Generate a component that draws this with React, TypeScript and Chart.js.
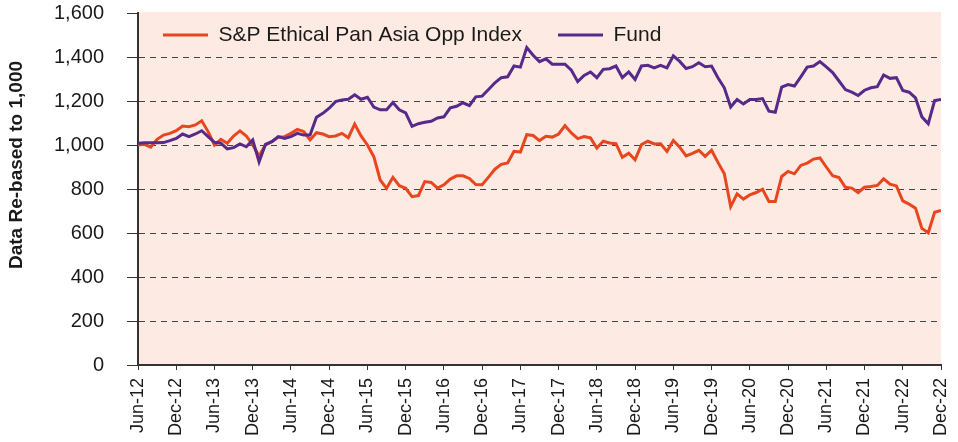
import React, { useEffect, useRef } from 'react';
import { Chart, registerables } from 'chart.js';

Chart.register(...registerables);

const tickLabels = [
  'Jun-12', 'Dec-12', 'Jun-13', 'Dec-13', 'Jun-14', 'Dec-14', 'Jun-15', 'Dec-15',
  'Jun-16', 'Dec-16', 'Jun-17', 'Dec-17', 'Jun-18', 'Dec-18', 'Jun-19', 'Dec-19',
  'Jun-20', 'Dec-20', 'Jun-21', 'Dec-21', 'Jun-22', 'Dec-22',
];

const indexLabel = 'S&P Ethical Pan Asia Opp Index';
const fundLabel = 'Fund';
const yTitle = 'Data Re-based to 1,000';

// monthly values, Jun-12 .. Dec-22
const indexValues = [
  1000, 1003, 990, 1026, 1045, 1053, 1065, 1086, 1083, 1091, 1110, 1061,
  1000, 1026, 1008, 1041, 1064, 1041, 1000, 950, 1000, 1015, 1035, 1038,
  1053, 1071, 1061, 1023, 1056, 1050, 1038, 1041, 1053, 1033, 1095, 1041,
  1000, 947, 841, 803, 853, 815, 803, 765, 770, 834, 830, 804,
  819, 845, 860, 860, 848, 820, 819, 854, 890, 912, 918, 971,
  968, 1047, 1043, 1020, 1040, 1036, 1050, 1088, 1055, 1029, 1038, 1032,
  986, 1017, 1009, 1006, 944, 963, 933, 1002, 1017, 1005, 1006, 971,
  1021, 990, 950, 962, 976, 948, 976, 921, 869, 720, 778, 754,
  773, 784, 799, 743, 743, 857, 880, 869, 907, 918, 936, 941,
  900, 860, 852, 808, 804, 784, 808, 811, 816, 846, 822, 814,
  746, 731, 713, 621, 601, 694, 702,
];

const fundValues = [
  1008, 1010, 1010, 1010, 1011, 1020, 1030, 1050, 1038, 1050, 1065, 1038,
  1012, 1008, 982, 988, 1005, 992, 1023, 923, 1003, 1015, 1038, 1030,
  1038, 1053, 1045, 1045, 1126, 1144, 1167, 1197, 1205, 1208, 1228, 1208,
  1217, 1172, 1160, 1160, 1193, 1160, 1146, 1085, 1097, 1103, 1108, 1123,
  1128, 1169, 1176, 1192, 1179, 1219, 1222, 1252, 1283, 1306, 1310, 1359,
  1354, 1443, 1408, 1379, 1392, 1367, 1367, 1367, 1340, 1288, 1316, 1332,
  1306, 1344, 1347, 1359, 1306, 1332, 1298, 1359, 1362, 1351, 1362, 1351,
  1405, 1380, 1348, 1356, 1374, 1356, 1359, 1306, 1260, 1173, 1207, 1187,
  1207, 1207, 1211, 1154, 1149, 1263, 1275, 1268, 1310, 1354, 1359, 1379,
  1355, 1329, 1291, 1252, 1240, 1225, 1249, 1260, 1265, 1318, 1303, 1306,
  1248, 1240, 1214, 1128, 1097, 1202, 1207,
];

const FONT = "'Liberation Sans', Arial, Helvetica, sans-serif";
const ORANGE = '#e8461e';
const PURPLE = '#56298a';
const TEXT = '#1a1a1a';
const AXIS = '#333333';
const LEGEND_PAD = 36;

export default function App() {
  const ref = useRef<HTMLCanvasElement>(null);

  useEffect(() => {
    document.body.style.margin = '0';
    const canvas = ref.current;
    if (!canvas) return;
    Chart.defaults.font.family = FONT;

    const bgPlugin = {
      id: 'bgPlugin',
      beforeDraw(chart: any) {
        const { ctx, chartArea: a } = chart;
        ctx.save();
        ctx.fillStyle = '#fdebe3';
        ctx.fillRect(a.left, a.top - 1, a.right - a.left, a.bottom - a.top + 1);
        ctx.restore();
      },
    };

    const titlePlugin = {
      id: 'titlePlugin',
      afterDraw(chart: any) {
        const c = chart.ctx;
        c.save();
        c.translate(17, 165);
        c.rotate(-Math.PI / 2);
        c.font = `bold 19px ${FONT}`;
        c.fillStyle = TEXT;
        c.textAlign = 'center';
        c.textBaseline = 'middle';
        c.fillText(yTitle, 0, 0);
        c.restore();
      },
    };

    // place the built-in legend inside the plot, items side by side
    const legendPos = {
      id: 'legendPos',
      afterLayout(chart: any) {
        const lg = chart.legend;
        if (!lg) return;
        lg.maxHeight = 100;
        lg.fit();
        if (lg.columnSizes && lg.columnSizes.length >= 2) {
          lg.left = 163 - LEGEND_PAD;
          lg.right = lg.left + 800;
          lg.top = 24.5 - LEGEND_PAD;
          lg.bottom = lg.top + 100;
        }
      },
    };

    const chart = new Chart(canvas, {
      type: 'line',
      data: {
        datasets: [
          {
            label: indexLabel,
            data: indexValues.map((v, i) => ({ x: i, y: v })),
            borderColor: ORANGE,
            backgroundColor: ORANGE,
            borderWidth: 3,
            pointRadius: 0,
            tension: 0,
            order: 1,
          },
          {
            label: fundLabel,
            data: fundValues.map((v, i) => ({ x: i, y: v })),
            borderColor: PURPLE,
            backgroundColor: PURPLE,
            borderWidth: 3,
            pointRadius: 0,
            tension: 0,
            order: 0,
          },
        ],
      },
      options: {
        animation: false,
        responsive: false,
        layout: { padding: { left: 0, right: 17, top: 13, bottom: 0 } },
        plugins: {
          tooltip: { enabled: false },
          legend: {
            position: 'chartArea',
            align: 'start',
            labels: {
              usePointStyle: true,
              pointStyle: 'line',
              pointStyleWidth: 45,
              boxWidth: 45,
              padding: LEGEND_PAD,
              color: TEXT,
              font: { size: 21, family: FONT },
              sort: (a: any, b: any) => a.datasetIndex - b.datasetIndex,
            },
          },
        },
        scales: {
          x: {
            type: 'linear',
            min: 0,
            max: 126,
            grid: {
              drawOnChartArea: false,
              drawTicks: true,
              tickLength: 5,
              color: AXIS,
              lineWidth: 1,
            },
            border: { color: AXIS, width: 2 },
            ticks: {
              stepSize: 6,
              autoSkip: false,
              maxRotation: 90,
              minRotation: 90,
              padding: 8,
              color: TEXT,
              font: { size: 18, family: FONT },
              callback: (v: any) => tickLabels[Math.round(Number(v) / 6)],
            },
            afterFit: (s: any) => {
              s.height = 77;
              s.paddingLeft = 0;
              s.paddingRight = 0;
            },
          },
          y: {
            min: 0,
            max: 1600,
            grid: {
              color: (c: any) =>
                c.tick && (c.tick.value === 1600 || c.tick.value === 0) ? 'rgba(0,0,0,0)' : '#444444',
              tickColor: AXIS,
              tickLength: 11,
              tickBorderDash: [],
              lineWidth: 1,
            },
            border: { color: AXIS, width: 2, dash: [6, 5] },
            ticks: {
              stepSize: 200,
              padding: 23,
              color: TEXT,
              font: { size: 20, family: FONT },
              callback: (v: any) => Number(v).toLocaleString('en-US'),
            },
            afterFit: (s: any) => {
              s.width = 138;
              s.paddingTop = 0;
              s.paddingBottom = 0;
            },
          },
        },
      } as any,
      plugins: [bgPlugin, titlePlugin, legendPos],
    });

    return () => chart.destroy();
  }, []);

  return (
    <div style={{ width: 958, height: 442 }}>
      <canvas ref={ref} width={958} height={442} style={{ display: 'block' }} />
    </div>
  );
}
